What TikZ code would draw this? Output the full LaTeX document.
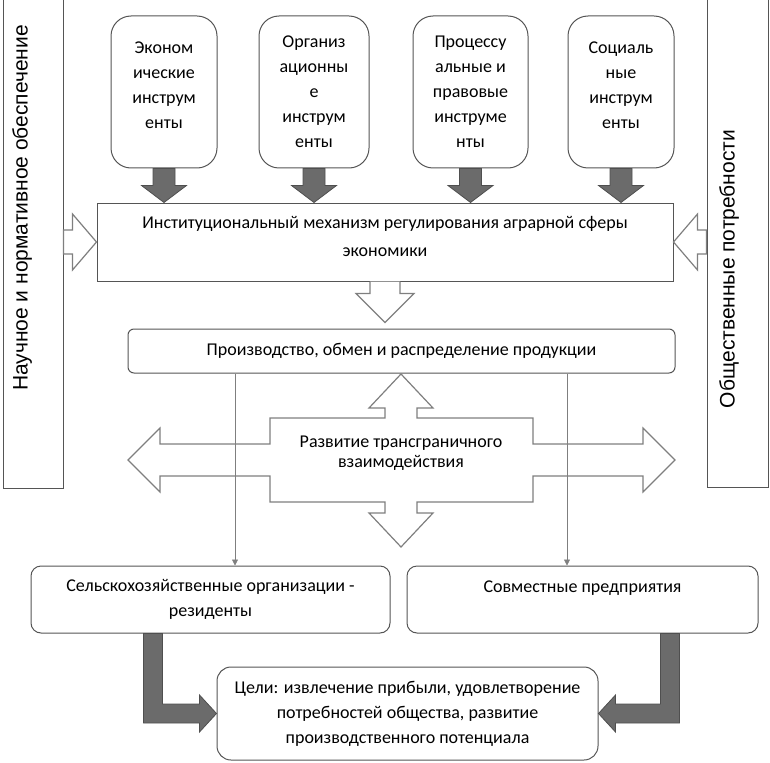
\documentclass[tikz,border=0pt]{standalone}
\usepackage{fontspec}
\setmainfont{Carlito}
\newfontfamily\barfont{Liberation Sans}
\usetikzlibrary{calc,arrows.meta}

\definecolor{framegray}{HTML}{555555}
\definecolor{linegray}{HTML}{7F7F7F}
\definecolor{arrowfill}{HTML}{6B6B6B}
\definecolor{arrowedge}{HTML}{4F4F4F}

\tikzset{
  box/.style={draw=framegray, line width=1pt, align=center, inner sep=0pt,
    font=\fontsize{18}{25}\selectfont},
  toolbox/.style={box, rounded corners=20pt, minimum height=152},
  roundbox/.style={box, rounded corners=#1},
  sidebar/.style={draw=framegray, line width=1pt, minimum width=60, minimum height=493, inner sep=0pt},
  barlabel/.style={rotate=90, font=\barfont\fontsize{21}{24}\selectfont},
  hollow/.style={draw=linegray, line width=1.2pt, fill=white, line join=miter},
  darkarrow/.style={draw=arrowedge, line width=0.8pt, fill=arrowfill, line join=miter},
  thinarrow/.style={draw=linegray, line width=0.7pt, -{Triangle[length=6pt,width=6pt]}}
}

\begin{document}
\begin{tikzpicture}[x=1pt,y=-1pt]
  % Match the original frame.
  \useasboundingbox (0,0) rectangle (770,762);

  % Side frames with their vertical captions.
  \node[sidebar] (nauka) at (33,241.5) {};
  \node[barlabel] (naukatxt) at (22,208) {Научное и нормативное обеспечение};
  \node[sidebar, minimum width=61, minimum height=492] (obsch) at (737.5,241) {};
  \node[barlabel] (obschtxt) at (729,269) {Общественные потребности};

  % Four groups of instruments.
  \node[toolbox, minimum width=106] (ekon) at (164,92) {Эконом\\ические\\инструм\\енты\\[-12pt]\mbox{}};
  \node[toolbox, minimum width=110] (org) at (314,92) {Организ\\ационны\\е\\инструм\\енты};
  \node[toolbox, minimum width=115] (proc) at (470.5,92) {Процессу\\альные и\\правовые\\инструме\\нты};
  \node[toolbox, minimum width=106] (soc) at (621,92) {Социаль\\ные\\инструм\\енты\\[-12pt]\mbox{}};

  % Central mechanism and production.
  \node[box, minimum width=576, minimum height=78, font=\fontsize{18}{28}\selectfont] (inst) at (385,242)
    {Институциональный механизм регулирования аграрной сферы\\экономики\\[-16pt]\mbox{}};
  \node[roundbox=6pt, minimum width=547, minimum height=44] (prod) at (401.5,351)
    {Производство, обмен и распределение продукции};

  % Participants and goals.
  \node[roundbox=10pt, minimum width=359, minimum height=67] (sel) at (210.5,599.5)
    {Сельскохозяйственные организации -\\резиденты};
  \node[roundbox=10pt, minimum width=351, minimum height=67] (sovm) at (582.5,599.5)
    {Совместные предприятия\\\mbox{}};
  \node[roundbox=14pt, minimum width=381, minimum height=93] (celi) at (407.5,713.5)
    {Цели: извлечение прибыли, удовлетворение\\потребностей общества, развитие\\производственного потенциала};

  % Dark arrows from the instruments into the mechanism.
  \foreach \b in {ekon,org,proc,soc}
    \draw[darkarrow] (\b.south) ++(-11,0) -- ++(0,17) -- ++(-11.5,0) -- (\b.south |- inst.north)
      -- ++(22.5,-17) -- ++(-11.5,0) |- (\b.south) -- cycle;

  % Hollow arrows from the side frames.
  \draw[hollow] (inst.west) -- ++(-24,-28) -- ++(0,16) coordinate (hl) -- (hl -| nauka.east)
    -- ++(0,24) -- ($(inst.west)+(-24,12)$) -- ++(0,16) -- cycle;
  \draw[hollow] (inst.east) -- ++(24,-28) -- ++(0,16) coordinate (hr) -- (hr -| obsch.west)
    -- ++(0,24) -- ($(inst.east)+(24,12)$) -- ++(0,16) -- cycle;

  % Hollow arrow down to production.
  \draw[hollow] ($(inst.south)+(-15,0)$) -- ++(0,12) -- ++(-14,0) -- ++(29,29)
    -- ++(29,-29) -- ++(-14,0) -- ++(0,-12);

  % Four-way arrow of cross-border interaction.
  \coordinate (cross) at (401,460);
  \draw[hollow, shift={(cross)}] (0,-86) -- (32,-52) -- (16,-52) -- (16,-42) -- (132,-42) -- (132,-16)
    -- (242,-16) -- (242,-32) -- (274,0) -- (242,32) -- (242,16) -- (132,16) -- (132,42)
    -- (16,42) -- (16,53) -- (32,53) -- (0,87) -- (-32,53) -- (-16,53) -- (-16,42)
    -- (-131,42) -- (-131,16) -- (-241,16) -- (-241,32) -- (-273,0) -- (-241,-32)
    -- (-241,-16) -- (-131,-16) -- (-131,-42) -- (-16,-42) -- (-16,-52) -- (-32,-52) -- cycle;
  \node[font=\fontsize{18}{20}\selectfont, align=center] (razv) at (401,453)
    {Развитие трансграничного\\взаимодействия};

  % Thin links from production to participants.
  \coordinate (xl) at (235,0);
  \coordinate (xr) at (567,0);
  \draw[thinarrow] (prod.south -| xl) -- (sel.north -| xl);
  \draw[thinarrow] (prod.south -| xr) -- (sovm.north -| xr);

  % Dark bent arrows into the goals.
  \draw[darkarrow] ($(sel.south west)+(113,0)$) |- ($(celi.west)+(-17,9.5)$) -- ++(0,9) -- (celi.west)
    -- ++(-17,-18.5) -- ++(0,9) -| ($(sel.south west)+(132,0)$) -- cycle;
  \draw[darkarrow] ($(sovm.south west)+(273,0)$) |- ($(celi.east)+(17,9.5)$) -- ++(0,9) -- (celi.east)
    -- ++(17,-18.5) -- ++(0,9) -| ($(sovm.south west)+(254,0)$) -- cycle;
\end{tikzpicture}
\end{document}
